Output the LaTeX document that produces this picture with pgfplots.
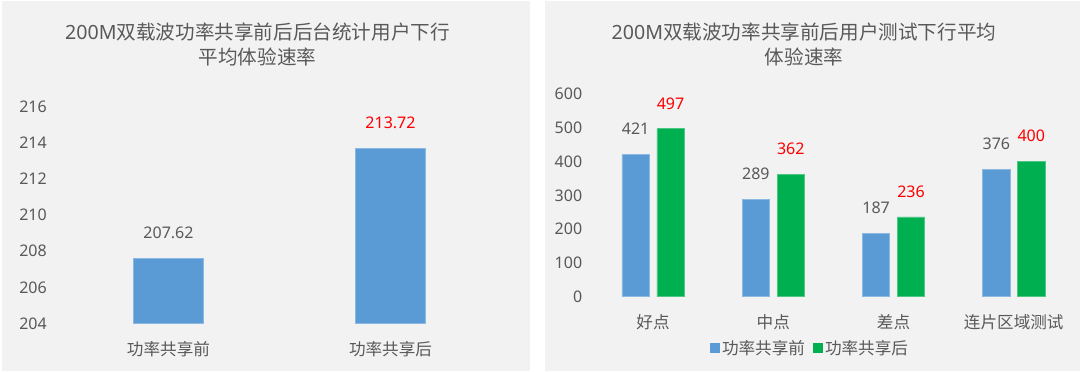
\documentclass[border=0pt]{standalone}
\usepackage{pgfplots}
\pgfplotsset{compat=1.18}
\usepackage{fontspec}
\setmainfont{Noto Sans}
\newfontfamily\cjk{Noto Sans CJK SC}
\definecolor{bg}{HTML}{F2F2F2}
\definecolor{txt}{HTML}{595959}
\definecolor{cblue}{HTML}{5B9BD5}
\definecolor{cgreen}{HTML}{00B050}
\definecolor{cred}{HTML}{FF0000}
\newcommand{\sz}{\fontsize{16}{19}\selectfont}
\newcommand{\csz}{\fontsize{16.6}{19}\selectfont}
\newcommand{\tsz}{\fontsize{19.6}{23}\selectfont}
\pgfplotsset{
  common/.style={
    scale only axis,
    anchor=south west,
    axis line style={draw=none},
    tick style={draw=none},
    ymajorgrids=false,
    /pgf/number format/assume math mode=true,
    yticklabel style={anchor=east, inner sep=0pt, xshift=-10.5pt, font=\sz, text=txt},
    xticklabel style={anchor=center, inner sep=0pt, yshift=-21pt, font=\csz\cjk, text=txt},
    xtick=data,
    ybar,
    nodes near coords,
    every node near coord/.append style={anchor=center, inner sep=0pt, yshift=25.5pt, font=\sz},
    clip=true,
  }
}
\begin{document}
\begin{tikzpicture}
\path[use as bounding box] (0pt,0pt) rectangle (1080pt,372pt);
\fill[white] (0pt,0pt) rectangle (1080pt,372pt);
\fill[bg] (2pt,1pt) rectangle (530pt,371pt);
\fill[bg] (545pt,1pt) rectangle (1080pt,371pt);

% Left title
\node[text=txt, font=\tsz, inner sep=0pt] at (257.5pt,339.7pt) {200M{\cjk 双载波功率共享前后后台统计用户下行}};
\node[text=txt, font=\tsz\cjk, inner sep=0pt] at (257.5pt,315.3pt) {平均体验速率};
% Right title
\node[text=txt, font=\tsz, inner sep=0pt] at (804pt,339.7pt) {200M{\cjk 双载波功率共享前后用户测试下行平均}};
\node[text=txt, font=\tsz\cjk, inner sep=0pt] at (804pt,315.3pt) {体验速率};

\begin{axis}[common,
  at={(57.5pt,48.5pt)},
  width=444pt, height=216.8pt,
  xmin=-0.5, xmax=1.5,
  ymin=204, ymax=216,
  ytick={204,206,208,210,212,214,216},
  xtick={0,1},
  xticklabels={功率共享前,功率共享后},
  bar width=69.5pt,
]
\addplot[fill=cblue, draw=cblue!70!white, line width=0.6pt, bar shift=0pt,
  every node near coord/.append style={text=txt}] coordinates {(0,207.62)};
\addplot[fill=cblue, draw=cblue!70!white, line width=0.6pt, bar shift=0pt,
  every node near coord/.append style={text=cred}] coordinates {(1,213.72)};
\end{axis}

\begin{axis}[common,
  at={(592.9pt,75.3pt)},
  width=481pt, height=202.7pt,
  xmin=-0.5, xmax=3.5,
  ymin=0, ymax=600,
  ytick={0,100,200,300,400,500,600},
  xtick={0,1,2,3},
  xticklabels={好点,中点,差点,连片区域测试},
  ybar=7.7pt,
  bar width=27.2pt,
  legend style={at={(0.4514,-0.253)}, anchor=center, draw=none, fill=none,
    legend columns=2, font=\csz\cjk, text=txt,
    /tikz/every even column/.append style={column sep=6pt},
    nodes={inner xsep=2pt}},
  legend image code/.code={\fill[#1,draw=none] (0pt,-5pt) rectangle (10pt,5pt);},
]
\addplot[fill=cblue, draw=cblue!70!white, line width=0.6pt,
  every node near coord/.append style={text=txt}] coordinates {(0,421) (1,289) (2,187) (3,376)};
\addplot[fill=cgreen, draw=cgreen!70!white, line width=0.6pt,
  every node near coord/.append style={text=cred}] coordinates {(0,497) (1,362) (2,236) (3,400)};
\legend{功率共享前,功率共享后}
\end{axis}
\end{tikzpicture}
\end{document}
